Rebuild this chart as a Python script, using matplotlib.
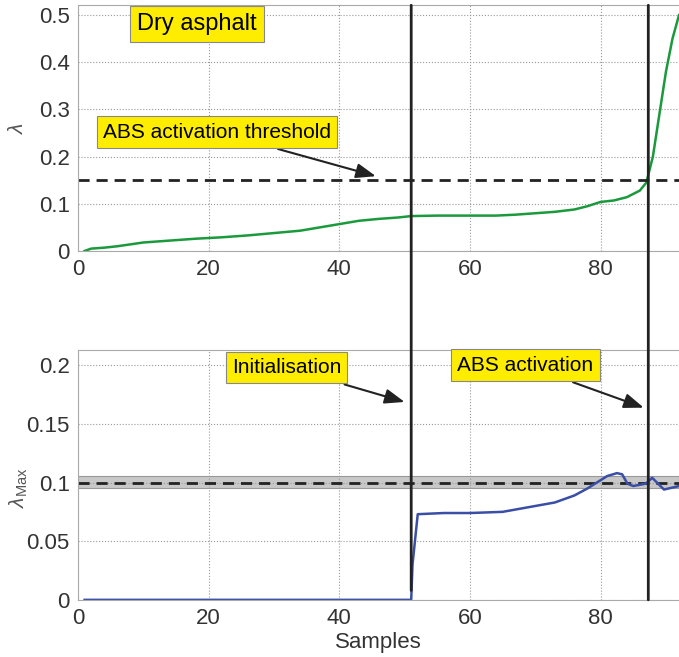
import numpy as np
import matplotlib
matplotlib.use('Agg')
from matplotlib import pyplot as plt
from matplotlib.patches import ConnectionPatch

plt.rcParams['font.family'] = ['Liberation Sans', 'DejaVu Sans']
plt.rcParams['mathtext.fontset'] = 'custom'
plt.rcParams['mathtext.rm'] = 'Liberation Sans'
plt.rcParams['mathtext.it'] = 'Liberation Sans:italic'

# slip ratio over the braking samples
lam_x = [1, 2, 4, 6, 8, 10, 14, 18, 22, 26, 30, 34, 37, 40, 43, 46, 49, 51,
         55, 60, 64, 67, 70, 73, 76, 78, 80, 82, 84, 86, 87, 88, 89, 90, 91, 92]
lam_y = [0.0, 0.005, 0.007, 0.010, 0.014, 0.018, 0.022, 0.026, 0.029, 0.033,
         0.038, 0.043, 0.050, 0.057, 0.064, 0.068, 0.071, 0.074, 0.075, 0.075,
         0.075, 0.077, 0.080, 0.083, 0.088, 0.095, 0.104, 0.107, 0.114, 0.128,
         0.145, 0.200, 0.290, 0.380, 0.450, 0.500]

# estimated optimal slip
lmax_x = [1, 51, 51.2, 52, 56, 60, 65, 69, 73, 76, 78, 80, 81, 82.5, 83.3,
          84.1, 85, 86.9, 87.9, 89.7, 92]
lmax_y = [0.0, 0.0, 0.03, 0.073, 0.074, 0.074, 0.075, 0.079, 0.083, 0.089,
          0.095, 0.102, 0.1055, 0.108, 0.107, 0.099, 0.097, 0.099, 0.104,
          0.094, 0.097]

threshold = 0.15
lmax_true = 0.1
lmax_band = (0.0955, 0.1055)
t_init = 51
t_abs = 87.3

fig = plt.figure(figsize=(6.79, 6.57), dpi=100)
ax1 = fig.add_axes([0.115, 0.618, 0.885, 0.374])
ax2 = fig.add_axes([0.115, 0.087, 0.885, 0.380])

box = dict(boxstyle='square,pad=0.3', fc='#ffed00', ec='#888888', lw=0.8)
arrow = dict(arrowstyle='-|>,head_length=0.8,head_width=0.3', color='#222222', lw=1.5)

for ax in (ax1, ax2):
    ax.set_xlim(0, 92)
    ax.set_xticks([0, 20, 40, 60, 80])
    ax.grid(True, ls=':', color='#999999', lw=0.8)
    for s in ax.spines.values():
        s.set_color('#aaaaaa')
    ax.spines['right'].set_visible(False)
    ax.tick_params(labelsize=16, colors='#333333', length=0, pad=6)

ax1.plot(lam_x, lam_y, color='#1a9a3c', lw=1.8)
ax1.axhline(threshold, color='#222222', ls='--', lw=2, dashes=(4, 2.5))
ax1.set_ylim(0, 0.521)
ax1.set_yticks([0, 0.1, 0.2, 0.3, 0.4, 0.5])
ax1.set_yticklabels(['0', '0.1', '0.2', '0.3', '0.4', '0.5'])
ax1.set_ylabel(r'$\lambda$', fontsize=15, color='#555555')
ax1.yaxis.set_label_coords(-0.085, 0.5)
ax1.text(18.2, 0.481, 'Dry asphalt', fontsize=17, ha='center', va='center', bbox=box)
ax1.annotate('ABS activation threshold', xy=(46, 0.157), xytext=(21.3, 0.252),
             fontsize=15, ha='center', va='center', bbox=box, arrowprops=arrow)

ax2.axhspan(lmax_band[0], lmax_band[1], color='#c8c8c8', ec='#999999', lw=0.8)
ax2.axhline(lmax_true, color='#222222', ls='--', lw=2, dashes=(4, 2.5))
ax2.plot(lmax_x, lmax_y, color='#3a4ea6', lw=1.8)
ax2.set_ylim(0, 0.2128)
ax2.set_yticks([0, 0.05, 0.1, 0.15, 0.2])
ax2.set_yticklabels(['0', '0.05', '0.1', '0.15', '0.2'])
ax2.set_ylabel(r'$\lambda_{\rm Max}$', fontsize=15, color='#555555')
ax2.yaxis.set_label_coords(-0.08, 0.45)
ax2.set_xlabel('Samples', fontsize=16, color='#333333', labelpad=2)
ax2.annotate('Initialisation', xy=(50.4, 0.168), xytext=(31.9, 0.198),
             fontsize=15, ha='center', va='center', bbox=box, arrowprops=arrow)
ax2.annotate('ABS activation', xy=(87.0, 0.163), xytext=(68.5, 0.200),
             fontsize=15, ha='center', va='center', bbox=box, arrowprops=arrow)

# event markers spanning both panels
for t, y_end in ((t_init, 0.008), (t_abs, 0.0)):
    con = ConnectionPatch(xyA=(t, 0.521), coordsA=ax1.transData,
                          xyB=(t, y_end), coordsB=ax2.transData,
                          color='#222222', lw=2, zorder=5)
    fig.add_artist(con)

plt.savefig('out.png', dpi=100)
